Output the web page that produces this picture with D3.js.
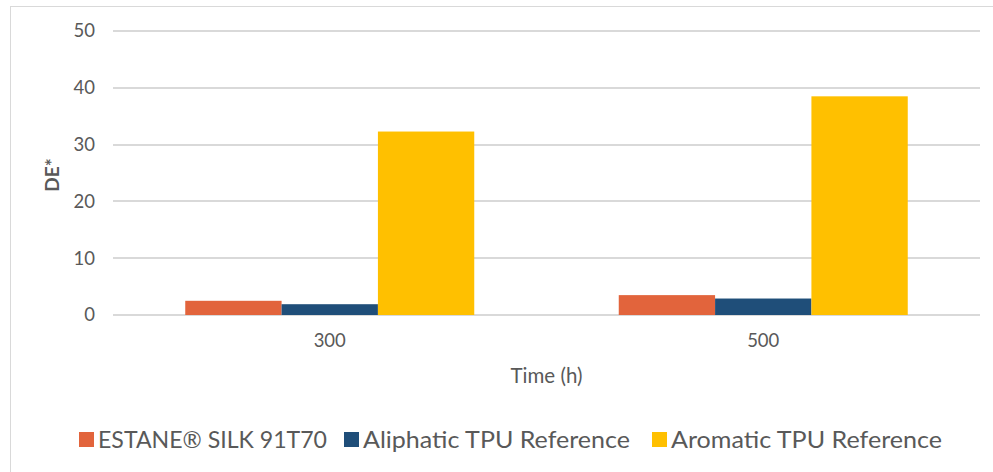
<!DOCTYPE html>
<html>
<head>
<meta charset="utf-8">
<script src="https://cdn.jsdelivr.net/npm/d3@7"></script>
<style>
  body { margin: 0; background: #fff; }
  text { font-family: Lato, "Open Sans", sans-serif; fill: #595959; }
</style>
</head>
<body>
<div id="chart"></div>
<script>
var width = 993;
var height = 472;

var categories = ["300", "500"];
var series = ["ESTANE® SILK 91T70", "Aliphatic TPU Reference", "Aromatic TPU Reference"];
var colors = ["#e2643c", "#1f4e79", "#ffc000"];
var estane = [2.5, 3.5];
var aliphatic = [1.9, 2.9];
var aromatic = [32.3, 38.5];
var yTicks = [0, 10, 20, 30, 40, 50];

var values = [estane, aliphatic, aromatic];

var svg = d3.select("#chart")
	.append("svg")
	.attr("width", width)
	.attr("height", height);

// chart frame
svg.append("rect")
	.attr("x", 10.5)
	.attr("y", 6.5)
	.attr("width", 1000)
	.attr("height", 500)
	.attr("fill", "none")
	.attr("stroke", "#d9d9d9");

var plotLeft = 113, plotRight = 980, plotTop = 31, plotBottom = 315;

var x = d3.scaleBand()
	.domain(categories)
	.range([plotLeft, plotRight]);

var x1 = d3.scaleBand()
	.domain(series)
	.range([0, x.bandwidth() / 1.5]);

var y = d3.scaleLinear()
	.domain([0, 50])
	.range([plotBottom, plotTop]);

// gridlines
svg.append("g")
	.selectAll("line")
	.data(yTicks)
	.enter()
	.append("line")
	.attr("x1", plotLeft)
	.attr("x2", plotRight)
	.attr("y1", function(d){ return Math.round(y(d)); })
	.attr("y2", function(d){ return Math.round(y(d)); })
	.attr("stroke", "#d9d9d9")
	.attr("stroke-width", 2);

// y labels
svg.append("g")
	.selectAll("text")
	.data(yTicks)
	.enter()
	.append("text")
	.attr("x", 95)
	.attr("y", function(d){ return y(d); })
	.attr("dy", "0.35em")
	.attr("text-anchor", "end")
	.attr("font-size", 18.5)
	.text(function(d){ return d; });

// bars
var groups = svg.append("g")
	.selectAll("g")
	.data(categories)
	.enter()
	.append("g")
	.attr("transform", function(d){
		return "translate(" + (x(d) + x.bandwidth() / 6) + ",0)";
	});

groups.selectAll("rect")
	.data(function(d, i){
		return series.map(function(s, j){ return {s: s, v: values[j][i], c: colors[j]}; });
	})
	.enter()
	.append("rect")
	.attr("x", function(d){ return x1(d.s); })
	.attr("width", x1.bandwidth())
	.attr("y", function(d){ return y(d.v); })
	.attr("height", function(d){ return y(0) - y(d.v); })
	.attr("fill", function(d){ return d.c; });

// x labels
svg.append("g")
	.selectAll("text")
	.data(categories)
	.enter()
	.append("text")
	.attr("x", function(d){ return x(d) + x.bandwidth() / 2; })
	.attr("y", 347)
	.attr("text-anchor", "middle")
	.attr("font-size", 18.5)
	.text(function(d){ return d; });

svg.append("text")
	.attr("x", (plotLeft + plotRight) / 2)
	.attr("y", 383)
	.attr("text-anchor", "middle")
	.attr("font-size", 20.5)
	.text("Time (h)");

svg.append("text")
	.attr("transform", "translate(59,175) rotate(-90)")
	.attr("text-anchor", "middle")
	.attr("font-size", 19)
	.attr("font-weight", "bold")
	.text("DE*");

// legend
var legendX = [79, 344, 652];
var legendW = [229, 267, 271];
var legend = svg.append("g")
	.selectAll("g")
	.data(series)
	.enter()
	.append("g")
	.attr("transform", function(d, i){ return "translate(" + legendX[i] + ",432)"; });

legend.append("rect")
	.attr("width", 15)
	.attr("height", 15)
	.attr("fill", function(d, i){ return colors[i]; });

legend.append("text")
	.attr("x", 19)
	.attr("y", 15.5)
	.attr("font-size", 24)
	.attr("textLength", function(d, i){ return legendW[i]; })
	.attr("lengthAdjust", "spacingAndGlyphs")
	.text(function(d){ return d; });
</script>
</body>
</html>
